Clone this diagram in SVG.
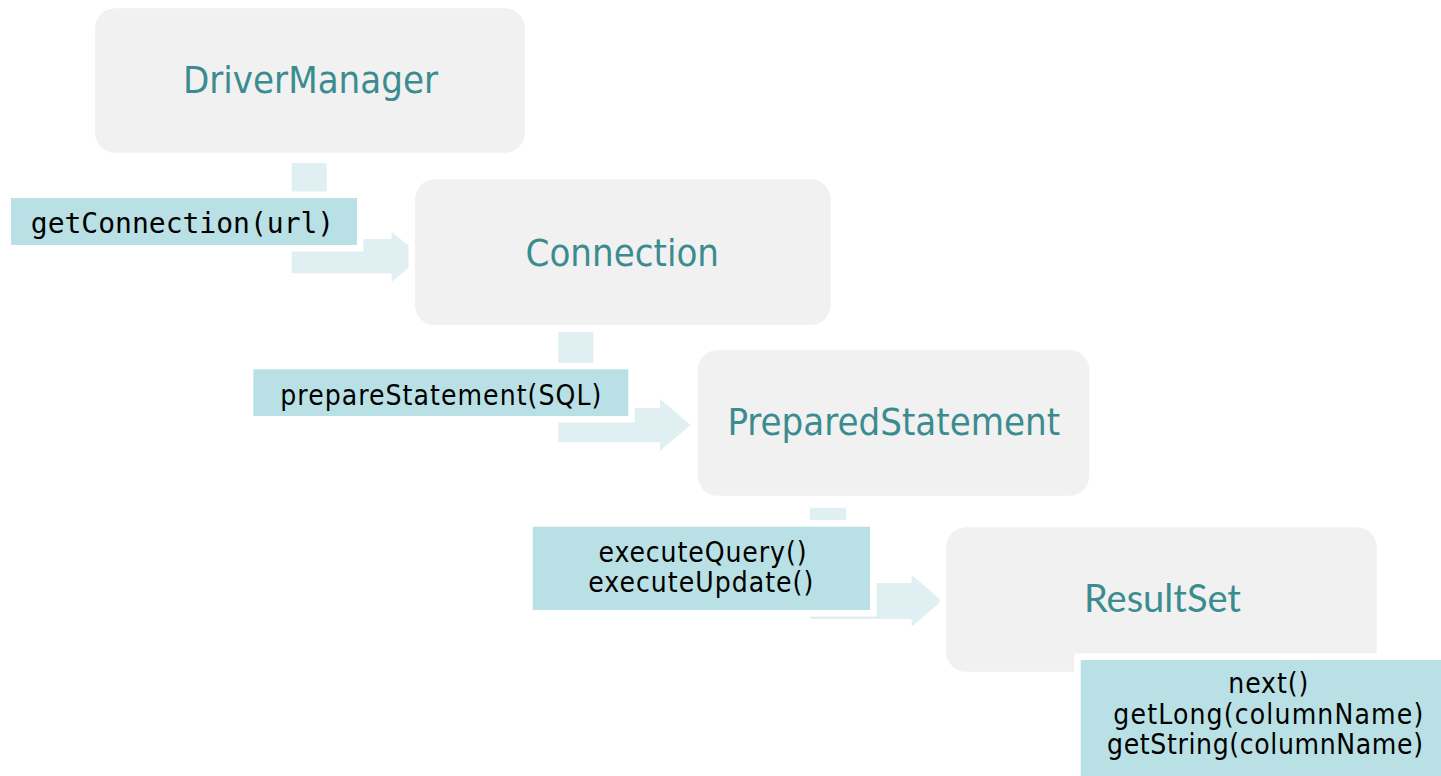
<svg xmlns="http://www.w3.org/2000/svg" width="1441" height="776" viewBox="0 0 1441 776">
<style>
.node{fill:#F1F1F1;stroke:#FFFFFF;stroke-width:13;paint-order:stroke}
.ntxt{font-family:"DejaVu Sans Condensed","DejaVu Sans",sans-serif;font-stretch:condensed;font-size:38px;fill:#3B8C8F;text-anchor:middle}
.arrow{fill:#DFEFF2}
.lbl{fill:#B9E0E4;stroke:#FFFFFF;stroke-width:13;paint-order:stroke}
.ltxt{font-family:"DejaVu Sans Condensed","DejaVu Sans",sans-serif;font-stretch:condensed;font-size:28px;fill:#000000;text-anchor:middle}
.mono{font-family:"DejaVu Sans Mono","Liberation Mono",monospace;font-size:28px;fill:#000000;text-anchor:middle}
</style>
<rect width="1441" height="776" fill="#FFFFFF"/>
<g id="connectors">
<polygon class="arrow" points="291.7,163 326.7,163 326.7,239 391.7,239 391.7,231.7 421.7,256.7 391.7,281.7 391.7,273.3 291.7,273.3"/>
<polygon class="arrow" points="558.3,331.7 593.3,331.7 593.3,408 660,408 660,399 690.5,425 660,451 660,442.3 558.3,442.3"/>
<polygon class="arrow" points="810,507.7 846,507.7 846,583 911.7,583 911.7,575 941.7,600.8 911.7,626.7 911.7,619 810,619"/>
</g>
<g id="DriverManager">
<rect class="node" x="95" y="8.3" width="430" height="144.4" rx="20"/>
<text class="ntxt" x="310.5" y="93.3">DriverManager</text>
</g>
<g id="Connection">
<rect class="node" x="415" y="179.3" width="415.7" height="145.7" rx="20"/>
<text class="ntxt" x="622.3" y="266">Connection</text>
</g>
<g id="PreparedStatement">
<rect class="node" x="697.7" y="350" width="391.6" height="145.7" rx="20"/>
<text class="ntxt" x="893.8" y="435">PreparedStatement</text>
</g>
<g id="ResultSet">
<rect class="node" x="946" y="527.3" width="430.7" height="144.4" rx="20"/>
<text class="ntxt" x="1162.5" y="612.3" style="font-family:Lato,'DejaVu Sans',sans-serif;font-stretch:normal">ResultSet</text>
</g>
<g id="label-getConnection">
<rect class="lbl" x="11" y="198" width="346" height="47"/>
<text class="mono" x="182.5" y="232.7">getConnection(url)</text>
</g>
<g id="label-prepareStatement">
<rect class="lbl" x="253.3" y="369.3" width="375" height="46.7"/>
<text class="ltxt" x="440.8" y="405" textLength="321" lengthAdjust="spacing">prepareStatement(SQL)</text>
</g>
<g id="label-execute">
<rect class="lbl" x="532.7" y="526.7" width="337.3" height="83.3"/>
<text class="ltxt" x="702.5" y="561.7" textLength="208" lengthAdjust="spacing">executeQuery()</text>
<text class="ltxt" x="700.8" y="591.7" textLength="225" lengthAdjust="spacing">executeUpdate()</text>
</g>
<g id="label-resultset">
<rect class="lbl" x="1080.7" y="660" width="372" height="130"/>
<text class="ltxt" x="1268.3" y="692.5" textLength="80" lengthAdjust="spacing">next()</text>
<text class="ltxt" x="1268.3" y="723.5" textLength="310" lengthAdjust="spacing">getLong(columnName)</text>
<text class="ltxt" x="1265" y="753.5" textLength="316" lengthAdjust="spacing">getString(columnName)</text>
</g>
</svg>
